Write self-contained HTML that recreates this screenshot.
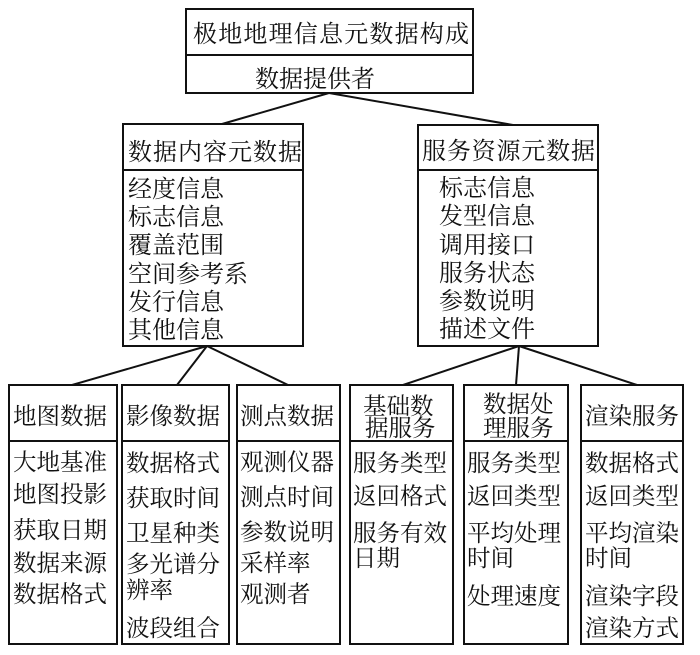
<!DOCTYPE html>
<html><head><meta charset="utf-8"><style>
html,body{margin:0;padding:0;background:#fff;}
svg{display:block;}
text{font-family:"Liberation Serif","Noto Serif CJK SC","Noto Sans CJK SC",serif;font-size:24px;fill:#111;}
.b text{font-size:23.5px;}
</style></head><body>
<svg width="700" height="655" viewBox="0 0 700 655" xmlns="http://www.w3.org/2000/svg">
<g fill="none" stroke="#111" stroke-width="2">
<rect x="186" y="9" width="287" height="84"/>
<line x1="186" y1="55" x2="473" y2="55"/>
<rect x="123" y="124" width="180" height="222"/>
<line x1="123" y1="170" x2="303" y2="170"/>
<rect x="418" y="125" width="180" height="221"/>
<line x1="418" y1="170" x2="598" y2="170"/>
<rect x="9" y="385" width="108" height="259"/>
<rect x="122" y="385" width="107" height="259"/>
<rect x="237" y="385" width="103" height="259"/>
<rect x="350" y="385" width="103" height="259"/>
<rect x="464" y="385" width="104" height="259"/>
<rect x="581" y="385" width="102" height="259"/>
<line x1="9" y1="441" x2="117" y2="441"/>
<line x1="122" y1="441" x2="229" y2="441"/>
<line x1="237" y1="441" x2="340" y2="441"/>
<line x1="350" y1="441" x2="453" y2="441"/>
<line x1="464" y1="441" x2="568" y2="441"/>
<line x1="581" y1="441" x2="683" y2="441"/>
<line x1="329" y1="93" x2="222" y2="124"/>
<line x1="329" y1="93" x2="513" y2="125"/>
<line x1="207" y1="346" x2="72" y2="385"/>
<line x1="207" y1="346" x2="177" y2="385"/>
<line x1="207" y1="346" x2="288" y2="385"/>
<line x1="519" y1="346" x2="403" y2="385"/>
<line x1="519" y1="346" x2="516" y2="385"/>
<line x1="519" y1="346" x2="637" y2="385"/>
</g>
<text x="193" y="42" textLength="276" lengthAdjust="spacing">极地地理信息元数据构成</text>
<text x="255" y="87" textLength="120" lengthAdjust="spacing">数据提供者</text>
<text x="128" y="160" textLength="174" lengthAdjust="spacing">数据内容元数据</text>
<text x="128" y="197">经度信息</text>
<text x="128" y="225">标志信息</text>
<text x="128" y="253">覆盖范围</text>
<text x="128" y="282">空间参考系</text>
<text x="128" y="310">发行信息</text>
<text x="128" y="338">其他信息</text>
<text x="422" y="159" textLength="173" lengthAdjust="spacing">服务资源元数据</text>
<text x="439" y="196">标志信息</text>
<text x="439" y="224">发型信息</text>
<text x="439" y="253">调用接口</text>
<text x="439" y="281">服务状态</text>
<text x="439" y="309">参数说明</text>
<text x="439" y="337">描述文件</text>
<g class="b">
<text x="13" y="424">地图数据</text>
<text x="13" y="470">大地基准</text>
<text x="13" y="502">地图投影</text>
<text x="13" y="538">获取日期</text>
<text x="13" y="571">数据来源</text>
<text x="13" y="602">数据格式</text>
<text x="126" y="424">影像数据</text>
<text x="126" y="471">数据格式</text>
<text x="126" y="506">获取时间</text>
<text x="126" y="541">卫星种类</text>
<text x="126" y="572">多光谱分</text>
<text x="126" y="598">辨率</text>
<text x="126" y="636">波段组合</text>
<text x="240" y="424">测点数据</text>
<text x="240" y="470">观测仪器</text>
<text x="240" y="505">测点时间</text>
<text x="240" y="540">参数说明</text>
<text x="240" y="571">采样率</text>
<text x="240" y="602">观测者</text>
<text x="363" y="414">基础数</text>
<text x="365" y="436">据服务</text>
<text x="353" y="471">服务类型</text>
<text x="353" y="504">返回格式</text>
<text x="353" y="541">服务有效</text>
<text x="353" y="566">日期</text>
<text x="483" y="412">数据处</text>
<text x="483" y="436">理服务</text>
<text x="467" y="471">服务类型</text>
<text x="467" y="504">返回类型</text>
<text x="467" y="541">平均处理</text>
<text x="467" y="566">时间</text>
<text x="467" y="604">处理速度</text>
<text x="585" y="424">渲染服务</text>
<text x="585" y="471">数据格式</text>
<text x="585" y="504">返回类型</text>
<text x="585" y="541">平均渲染</text>
<text x="585" y="566">时间</text>
<text x="585" y="604">渲染字段</text>
<text x="585" y="636">渲染方式</text>
</g>
</svg>
</body></html>
